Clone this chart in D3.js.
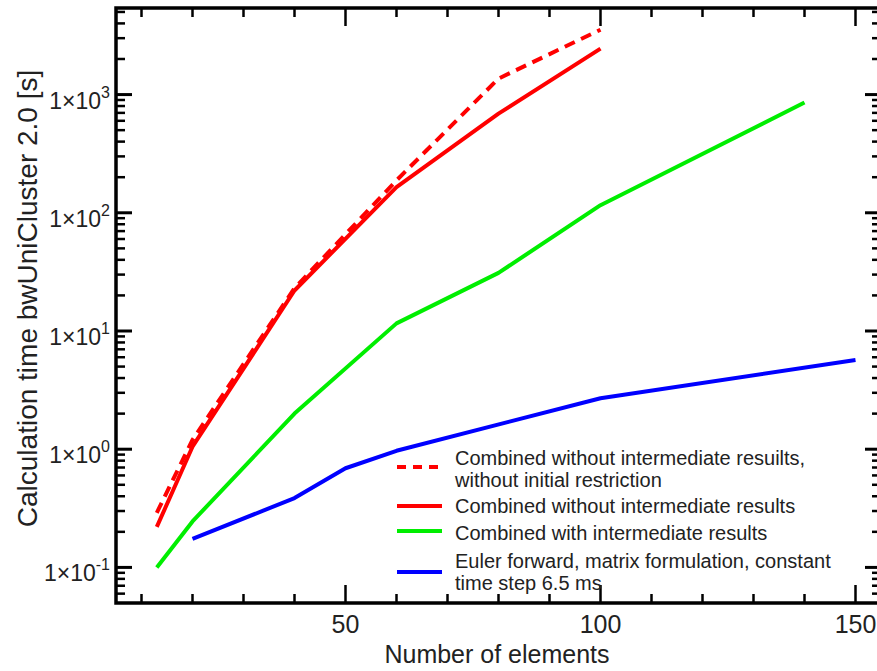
<!DOCTYPE html>
<html>
<head>
<meta charset="utf-8">
<script src="https://cdn.jsdelivr.net/npm/d3@7"></script>
<style>
  html, body { margin: 0; padding: 0; background: #fff; }
  svg { display: block; }
  text { font-family: "Liberation Sans", Arial, Helvetica, sans-serif; fill: #222; }
</style>
</head>
<body>
<svg id="chart" width="877" height="671"></svg>
<script>
// ---------- data ----------
const nRed = [13, 20, 40, 60, 80, 100];
const redSolid = [0.22, 1.05, 22, 165, 690, 2450];
const redDashed = [0.29, 1.2, 23, 188, 1365, 3540];
const nGreen = [13, 20, 40, 60, 80, 100, 140];
const greenVals = [0.1, 0.245, 2.0, 11.6, 31, 116, 856];
const nBlue = [20, 40, 50, 60, 100, 150];
const blueVals = [0.174, 0.386, 0.69, 0.97, 2.7, 5.69];

const xMajorTicks = [50, 100, 150];
const xMinorTicks = [10, 20, 30, 40, 60, 70, 80, 90, 110, 120, 130, 140];
const yMajorTicks = [0.1, 1, 10, 100, 1000];
const yExponents = ["-1", "0", "1", "2", "3"];

const legendLabels = [
  ["Combined without intermediate resuilts,", "without initial restriction"],
  ["Combined without intermediate results"],
  ["Combined with intermediate results"],
  ["Euler forward, matrix formulation, constant", "time step 6.5 ms"]
];
const seriesColors = ["#ff0000", "#ff0000", "#00ee00", "#0000ff"];
const seriesDash = ["11,7", null, null, null];

const xTitle = "Number of elements";
const yTitle = "Calculation time bwUniCluster 2.0 [s]";

// ---------- layout ----------
const L = 116, R = 881, T = 8, B = 603;
const x = d3.scaleLinear().domain([5, 155]).range([L, R]);
const y = d3.scaleLog().domain([0.05, 5400]).range([B, T]);

const svg = d3.select("#chart");

// minor y ticks
const yMinor = [];
for (let e = -2; e <= 3; e++) {
  for (let m = 2; m <= 9; m++) {
    const v = m * Math.pow(10, e);
    if (v > 0.05 && v < 5400) yMinor.push(v);
  }
}

// ---------- lines ----------
const line = d3.line().x(d => x(d[0])).y(d => y(d[1]));
const series = [
  nRed.map((n, i) => [n, redDashed[i]]),
  nRed.map((n, i) => [n, redSolid[i]]),
  nGreen.map((n, i) => [n, greenVals[i]]),
  nBlue.map((n, i) => [n, blueVals[i]])
];
series.forEach((s, i) => {
  svg.append("path")
    .attr("d", line(s))
    .attr("fill", "none")
    .attr("stroke", seriesColors[i])
    .attr("stroke-width", 4)
    .attr("stroke-linejoin", "round")
    .attr("stroke-dasharray", seriesDash[i]);
});

// ---------- axes (ticks inward on all sides) ----------
const majLen = 16, minLen = 9;
const tickG = svg.append("g").attr("stroke", "#000");
// bottom & top
xMajorTicks.concat(xMinorTicks).forEach(v => {
  const len = xMajorTicks.includes(v) ? majLen + 2 : minLen;
  tickG.append("line").attr("x1", x(v)).attr("x2", x(v)).attr("y1", B).attr("y2", B - len).attr("stroke-width", 2.5);
  tickG.append("line").attr("x1", x(v)).attr("x2", x(v)).attr("y1", T).attr("y2", T + len).attr("stroke-width", 2.5);
});
// left & right
yMajorTicks.forEach(v => {
  tickG.append("line").attr("x1", L).attr("x2", L + majLen).attr("y1", y(v)).attr("y2", y(v)).attr("stroke-width", 3);
  tickG.append("line").attr("x1", R).attr("x2", R - majLen).attr("y1", y(v)).attr("y2", y(v)).attr("stroke-width", 3);
});
yMinor.forEach(v => {
  tickG.append("line").attr("x1", L).attr("x2", L + minLen).attr("y1", y(v)).attr("y2", y(v)).attr("stroke-width", 2.5);
  tickG.append("line").attr("x1", R).attr("x2", R - minLen).attr("y1", y(v)).attr("y2", y(v)).attr("stroke-width", 2.5);
});

// frame
svg.append("rect")
  .attr("x", L).attr("y", T).attr("width", R - L).attr("height", B - T)
  .attr("fill", "none").attr("stroke", "#000").attr("stroke-width", 3.5);

// x tick labels
xMajorTicks.forEach(v => {
  svg.append("text").attr("x", x(v)).attr("y", 633)
    .attr("text-anchor", "middle").attr("font-size", 25).text(v);
});

// y tick labels
yMajorTicks.forEach((v, i) => {
  const t = svg.append("text").attr("x", 110).attr("y", y(v) + 14)
    .attr("text-anchor", "end").attr("font-size", 23);
  t.append("tspan").text("1\u00d710");
  t.append("tspan").attr("dy", -11).attr("font-size", 16).text(yExponents[i]);
});

// axis titles
svg.append("text").attr("x", 497).attr("y", 663).attr("text-anchor", "middle")
  .attr("font-size", 25).text(xTitle);
svg.append("text").attr("transform", "translate(37,298.5) rotate(-90)")
  .attr("text-anchor", "middle").attr("font-size", 28).text(yTitle);

// ---------- legend ----------
const legLineY = [467, 506, 531, 572];
const legTextY = [[465, 487], [513], [540], [568, 590]];
legendLabels.forEach((lines, i) => {
  svg.append("line")
    .attr("x1", 397).attr("x2", 442)
    .attr("y1", legLineY[i]).attr("y2", legLineY[i])
    .attr("stroke", seriesColors[i]).attr("stroke-width", 4)
    .attr("stroke-dasharray", seriesDash[i] ? "9,7" : null);
  lines.forEach((txt, j) => {
    svg.append("text").attr("x", 455).attr("y", legTextY[i][j])
      .attr("font-size", 20).text(txt);
  });
});
</script>
</body>
</html>
